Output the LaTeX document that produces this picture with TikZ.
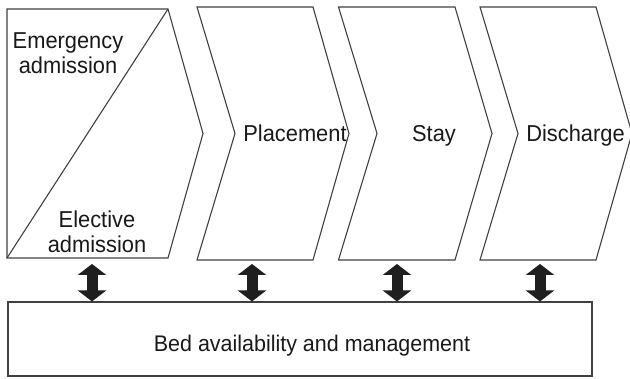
\documentclass[tikz,border=0pt]{standalone}
\usepackage{fontspec}
\setmainfont{Liberation Sans}[FakeStretch=0.95]
\usetikzlibrary{arrows.meta}
\begin{document}
\begin{tikzpicture}[x=1pt, y=-1pt,
  outline/.style={draw=black!75, line width=1.1pt, line join=miter},
  caption/.style={font=\fontsize{23}{25}\selectfont, text=black!90, align=center, inner sep=0pt},
  link/.style={line width=11pt, draw=black!88,
    {Triangle[width=28pt,length=11pt]}-{Triangle[width=28pt,length=11pt]}}]
\useasboundingbox (0,0) rectangle (630,379);

% admission stage: split into emergency (upper) and elective (lower)
\draw[outline] (7,9) -- (168,9) -- (203,133.5) -- (168,258) -- (7,258) -- cycle;
\draw[outline] (7,258) -- (168,9);

% process chevrons
\draw[outline] (197,7) -- (313,7) -- (349,133.5) -- (313,260) -- (197,260) -- (235,133.5) -- cycle;
\draw[outline] (338.5,7) -- (455,7) -- (492,133.5) -- (455,260) -- (338.5,260) -- (377,133.5) -- cycle;
\draw[outline] (480,7) -- (596,7) -- (632,133.5) -- (596,260) -- (480,260) -- (518,133.5) -- cycle;

% stage labels
\node[caption] (emerg) at (68,53) {Emergency\\admission};
\node[caption] (elect) at (97,232) {Elective\\admission};
\node[caption, anchor=base] (place) at (295,142) {Placement};
\node[caption, anchor=base] (stay) at (434,142) {Stay};
\node[caption, anchor=base] (disch) at (575.5,142) {Discharge};

% shared resource
\node[outline, minimum width=584pt, minimum height=74pt] (bed) at (300,339) {};
\node[caption, font=\fontsize{22.6}{25}\selectfont, anchor=base] (bedtext)
  at ([xshift=12pt, yshift=-13pt]bed.center) {Bed availability and management};

% links between each stage and bed management
\coordinate (s1) at (92,264);
\coordinate (s2) at (252,264);
\coordinate (s3) at (397,264);
\coordinate (s4) at (540,264);
\foreach \s in {s1,s2,s3,s4}
  \draw[link] (\s) -- (\s |- bed.north);
\end{tikzpicture}
\end{document}
